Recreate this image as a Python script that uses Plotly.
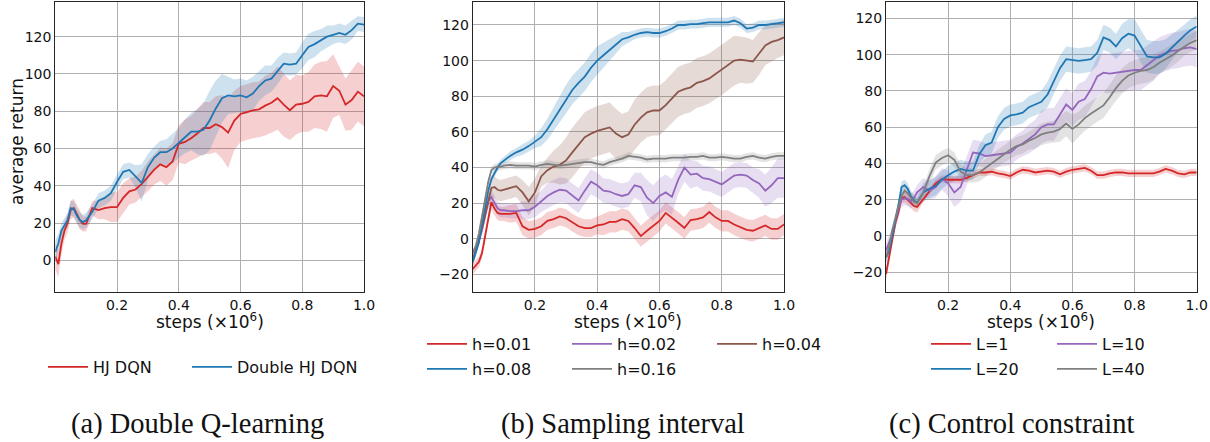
import plotly.graph_objects as go

# ---------------- data ----------------
STEPS = [0, 0.01, 0.02, 0.03, 0.04, 0.05, 0.06, 0.07, 0.08, 0.09, 0.10,
         0.12, 0.14, 0.16, 0.18, 0.20, 0.22, 0.24, 0.26, 0.28, 0.30,
         0.32, 0.34, 0.36, 0.38, 0.40, 0.42, 0.44, 0.46, 0.48, 0.50,
         0.52, 0.54, 0.56, 0.58, 0.60, 0.62, 0.64, 0.66, 0.68, 0.70,
         0.72, 0.74, 0.76, 0.78, 0.80, 0.82, 0.84, 0.86, 0.88, 0.90,
         0.92, 0.94, 0.96, 0.98, 1.00]

X_TICKS = [0.2, 0.4, 0.6, 0.8, 1.0]
X_TICK_LABELS = ["0.2", "0.4", "0.6", "0.8", "1.0"]
Y_TICKS_A = [0, 20, 40, 60, 80, 100, 120]
Y_TICKS_BC = [-20, 0, 20, 40, 60, 80, 100, 120]
X_TITLE = "steps (×10<sup>6</sup>)"
Y_TITLE = "average return"

# (a) Double Q-learning
A_HJ = [2, -2, 9, 16, 20, 27, 28, 25, 21.5, 19.5, 19.5,
        28, 27, 28, 28.5, 28.5, 33.5, 37, 38, 41, 45,
        48.5, 51.5, 50, 53, 62.5, 63.5, 65.5, 68, 71, 71,
        73, 71.5, 68.5, 75, 78.5, 79.5, 80.5, 81, 83, 84.5,
        87, 83.5, 80.5, 83.5, 84, 85, 88, 88.5, 88, 93.5,
        91, 83.5, 86, 90.5, 88]
A_HJ_SD = [7, 7, 6, 5, 5, 5, 5, 5, 5, 4, 4,
           4, 5, 6, 8, 8, 8, 7, 7, 7, 8,
           8, 9, 10, 10, 10, 12, 12, 13, 14, 14,
           15, 17, 19, 16, 15, 15, 15, 15, 16, 16,
           17, 17, 16, 16, 15, 16, 17, 18, 19, 17,
           13, 14, 16, 16, 16]
A_DHJ = [4.5, 9, 16, 19, 21.5, 28, 27.5, 24, 21.5, 20.5, 21.5,
         26, 32, 33.5, 36, 42, 47.5, 48.5, 45, 41.5, 50,
         55, 58, 58, 60, 63, 66.5, 69, 69, 70, 75,
         81.5, 87, 88.5, 88, 88.5, 87.5, 89.5, 93.5, 96.5, 97.5,
         101.5, 105.5, 105, 105.5, 110, 114.5, 116, 118, 120, 121,
         122, 121, 123.5, 127, 126.5]
A_DHJ_SD = [6, 5, 4, 4, 4, 4, 4, 4, 4, 4, 4,
            4, 4, 4, 4, 4, 4, 4, 6, 10, 7,
            6, 6, 7, 8, 8, 9, 10, 12, 14, 16,
            15, 13, 10, 9, 9, 9, 9, 8, 8, 7,
            7, 6, 6, 6, 7, 7, 7, 6, 6, 5,
            5, 5, 5, 4, 4]

# (b) Sampling interval
B_H001 = [-17, -15, -13, -8, 2, 12, 20.5, 17, 14.5, 14, 14,
          14, 14.5, 7, 5, 5.5, 7, 10, 11, 12.5, 11.5,
          9, 7, 6, 6, 7.5, 8, 9.5, 9.5, 11, 10,
          6, 1.5, 4.5, 7, 10, 14.5, 12, 9, 6, 10.5,
          11, 12, 15, 12, 10, 10, 8, 6.5, 5, 4.5,
          6, 7.5, 5.5, 5.5, 8]
B_H001_SD = [3, 3, 3, 3, 3, 3, 4, 4, 4, 4, 4,
             5, 5, 5, 5, 5, 5, 5, 5, 5, 5,
             5, 5, 5, 5, 5, 6, 6, 6, 6, 6,
             6, 6, 6, 6, 6, 6, 6, 6, 6, 6,
             6, 6, 6, 6, 6, 6, 6, 6, 6, 6,
             6, 6, 6, 6, 6]
B_H002 = [-12, -7, -1, 5, 13, 21, 23.5, 20, 17, 16, 16,
          15.5, 15.5, 16, 16, 18, 21, 24, 26, 27.5, 27,
          24, 21.5, 27, 32, 30, 27, 26.5, 25, 24, 25,
          30, 29, 23, 20, 24, 26, 23.5, 33, 40, 36,
          36.5, 34, 33.5, 32, 30.5, 33, 35.5, 36, 35.5, 33,
          31, 27, 30, 34, 34]
B_H002_SD = [3, 3, 3, 3, 4, 4, 4, 4, 4, 4, 4,
             4, 4, 5, 5, 6, 6, 7, 7, 7, 7,
             7, 7, 7, 7, 7, 7, 7, 7, 7, 7,
             7, 8, 10, 10, 10, 10, 10, 8, 8, 8,
             7, 7, 7, 7, 7, 7, 7, 7, 7, 7,
             8, 9, 10, 11, 11]
B_H004 = [-12, -7, -1, 6, 14, 22, 28.5, 29, 27.5, 27, 27.5,
          28.5, 29.5, 26, 21, 26, 35, 38.5, 40.5, 41.5, 44,
          48.5, 53, 57, 59, 60.5, 61.5, 62.5, 59, 57, 58.5,
          64, 68, 71, 72, 72, 75, 79, 82.5, 84, 85,
          87.5, 88.5, 90, 92.5, 94.5, 97, 100, 100.5, 100, 99.5,
          104, 108.5, 110.5, 111.5, 113]
B_H004_SD = [3, 3, 3, 3, 4, 5, 6, 6, 6, 6, 6,
             6, 6, 7, 8, 8, 6, 7, 9, 11, 13,
             14, 14, 14, 14, 14, 14, 14, 14, 13, 13,
             14, 14, 14, 14, 14, 14, 14, 14, 14, 14,
             14, 14, 14, 14, 14, 14, 14, 13, 13, 12,
             12, 11, 11, 10, 10]
B_H008 = [-13, -8, -2, 8, 17, 27, 33.5, 37, 40, 42.5, 44,
          46.5, 48.5, 50, 52, 54.5, 57, 61.5, 67, 73, 78.5,
          83.5, 87.5, 91, 96, 100, 103, 106, 109, 112, 113,
          114.5, 115.5, 116, 115.5, 115.5, 116.5, 118, 120, 120, 120.5,
          120.5, 121, 121.5, 121.5, 121.5, 121.5, 122.5, 121, 118, 118.5,
          120, 120, 120.5, 121, 121.5]
B_H008_SD = [2, 2, 2, 2, 2, 2, 2, 2, 2, 2, 2,
             2.5, 2.5, 3, 3, 3.5, 5, 6, 7, 7.5, 8,
             8, 8, 8, 8, 8, 7, 6, 5, 4, 3,
             2.5, 2.5, 2.5, 2.5, 2.5, 2.5, 2.5, 2.5, 2.5, 2.5,
             2.5, 2.5, 2.5, 2.5, 2.5, 2.5, 2.5, 2.5, 2.5, 2.5,
             2.5, 2.5, 2.5, 2.5, 2.5]
B_H016 = [-8, -4, 3, 12, 22, 32, 38.5, 40, 40.5, 40.5, 41,
          41.5, 41, 41, 41, 40.5, 41.5, 42, 41.5, 41, 41.5,
          42, 42.5, 43, 43, 42, 41.5, 43, 44, 45, 46.5,
          46, 45.5, 44.5, 45, 45, 45, 45.5, 45.5, 45.5, 46,
          46, 46.5, 45.5, 45.5, 46, 45.5, 45, 45, 46, 46.5,
          45.5, 45, 46, 46.5, 46.5]
B_H016_SD = [2, 2, 2, 2, 2, 2, 2, 2, 2, 2, 2,
             2, 2, 2, 2, 2, 2, 2, 2, 2, 2,
             2, 2, 2, 2, 2, 2, 2, 2, 2, 2,
             2, 2, 2, 2, 2, 2, 2, 2, 2, 2,
             2, 2, 2, 2, 2, 2, 2, 2, 2, 2,
             2, 2, 2, 2, 2]

# (c) Control constraint
C_L1 = [-21, -12, -1, 7, 13, 21, 21.5, 20, 18.5, 16.5, 16,
        20.5, 25, 29, 31.5, 31, 31, 31, 32, 33.5, 35,
        35, 35.5, 34.5, 34, 33, 35, 36.5, 36, 35, 35.5,
        36, 35.5, 34, 35.5, 36.5, 37, 37.5, 36, 33.5, 33.5,
        34.5, 35, 35, 34.5, 34.5, 34.5, 34.5, 34.5, 35.5, 37,
        36, 34.5, 34, 35, 35]
C_L1_SD = [3, 3, 3, 3, 3, 3, 3, 3, 3, 3, 3,
           2, 2, 2, 2, 2, 2, 2, 2, 2, 2,
           2, 2, 2, 2, 2, 2, 2, 2, 2, 2,
           2, 2, 2, 2, 2, 2, 2, 2, 2, 2,
           2, 2, 2, 2, 2, 2, 2, 2, 2, 2,
           2, 2, 2, 2, 2]
C_L10 = [-8, -3, 1, 8, 15, 20, 21, 20.5, 19, 21, 24,
         27, 25, 27, 31.5, 29, 24, 27, 36, 46, 45.5,
         44, 44.5, 45, 45.5, 46, 49, 51, 53.5, 56, 60,
         61.5, 61.5, 67, 72.5, 69.5, 74, 75.5, 81, 88, 90,
         89.5, 90, 90.5, 91, 91.5, 91.5, 94, 96.5, 99.5, 101,
         102, 102.5, 103.5, 104, 103]
C_L10_SD = [4, 4, 4, 4, 4, 4, 4, 4, 4, 4, 4,
            5, 5, 6, 6, 7, 8, 8, 8, 7, 7,
            7, 7, 7, 7, 7, 7, 7, 8, 8, 9,
            9, 9, 9, 9, 9, 10, 10, 10, 11, 11,
            11, 11, 11, 11, 11, 11, 11, 11, 10, 10,
            10, 10, 10, 10, 10]
C_L20 = [-12, -8, 0, 8, 17, 27, 28, 26, 22, 19.5, 18.5,
         24, 26, 27.5, 31, 33.5, 35.5, 37, 36, 36, 45,
         50, 51.5, 60, 64.5, 66.5, 67, 68, 71, 72.5, 74,
         78, 85, 92.5, 97.5, 97, 96.5, 97, 97.5, 101, 109.5,
         108, 104.5, 109, 111.5, 110.5, 105, 99, 98.5, 98.5, 100.5,
         104, 107.5, 110.5, 113.5, 115.5]
C_L20_SD = [3, 3, 3, 3, 3, 3, 3, 3, 3, 3, 3,
            5, 5, 5, 5, 5, 5, 5, 5, 5, 5,
            6, 6, 6, 6, 6, 6, 6, 6, 6, 6,
            7, 7, 7, 7, 7, 7, 7, 7, 7, 7,
            7, 7, 8, 8, 9, 9, 9, 9, 9, 8,
            7, 6, 6, 6, 6]
C_L40 = [-12, -6, 3, 10, 16, 22, 25, 23.5, 21, 19, 18,
         24, 33, 40.5, 43, 44.5, 42, 35.5, 33.5, 33.5, 35,
         37.5, 40, 43, 45.5, 47.5, 49.5, 50.5, 52.5, 54, 56,
         57, 57.5, 59, 62, 59, 61.5, 65, 67.5, 70, 72,
         76.5, 81.5, 85.5, 88.5, 90, 91, 91.5, 93, 95.5, 97.5,
         99.5, 102, 104.5, 106.5, 108]
C_L40_SD = [3, 3, 3, 3, 3, 3, 3, 3, 3, 3, 3,
            3, 4, 4, 4, 4, 4, 4, 4, 4, 5,
            5, 5, 5, 5, 5, 5, 5, 5, 6, 6,
            6, 6, 7, 7, 8, 7, 7, 7, 7, 7,
            7, 7, 7, 7, 7, 7, 7, 7, 6, 6,
            6, 6, 5, 5, 5]

# ---------------- style ----------------
RED = (214, 39, 40)
BLUE = (31, 119, 180)
PURPLE = (148, 103, 189)
BROWN = (140, 86, 75)
GRAY = (127, 127, 127)

W, H = 1210, 442
FONT = "DejaVu Sans"

def rgb(c, a=None):
    if a is None:
        return "rgb(%d,%d,%d)" % c
    return "rgba(%d,%d,%d,%s)" % (c + (a,))

# panel: axis suffix, series list (name, mean, sd, color, legend id)
PANELS = [
    ("", [("HJ DQN", A_HJ, A_HJ_SD, RED, "legend"),
          ("Double HJ DQN", A_DHJ, A_DHJ_SD, BLUE, "legend6")]),
    ("2", [("h=0.01", B_H001, B_H001_SD, RED, "legend2"),
           ("h=0.02", B_H002, B_H002_SD, PURPLE, "legend2"),
           ("h=0.04", B_H004, B_H004_SD, BROWN, "legend2"),
           ("h=0.08", B_H008, B_H008_SD, BLUE, "legend3"),
           ("h=0.16", B_H016, B_H016_SD, GRAY, "legend3")]),
    ("3", [("L=1", C_L1, C_L1_SD, RED, "legend4"),
           ("L=10", C_L10, C_L10_SD, PURPLE, "legend4"),
           ("L=20", C_L20, C_L20_SD, BLUE, "legend5"),
           ("L=40", C_L40, C_L40_SD, GRAY, "legend5")]),
]

fig = go.Figure()

for suffix, series in PANELS:
    xa, ya = "x" + suffix, "y" + suffix
    for name, mean, sd, col, leg in series:
        assert len(mean) == len(STEPS) and len(sd) == len(STEPS), name
        upper = [m + s for m, s in zip(mean, sd)]
        lower = [m - s for m, s in zip(mean, sd)]
        fig.add_trace(go.Scatter(
            x=STEPS + STEPS[::-1], y=upper + lower[::-1],
            fill="toself", fillcolor=rgb(col, 0.22),
            line=dict(width=0), mode="lines", hoverinfo="skip",
            showlegend=False, xaxis=xa, yaxis=ya))
    for name, mean, sd, col, leg in series:
        fig.add_trace(go.Scatter(
            x=STEPS, y=mean, name=name, mode="lines",
            line=dict(color=rgb(col), width=1.8),
            xaxis=xa, yaxis=ya, legend=leg))

# axes geometry (pixels -> paper)
X_DOMAINS = [(55.25, 364.0), (472.7, 784.0), (886.0, 1196.7)]
Y_DOMAIN = [1 - 292 / H, 1 - 2 / H]
Y_RANGES = [[-17, 138.6], [-29.9, 132.9], [-30.9, 129.0]]
Y_TICKS = [Y_TICKS_A, Y_TICKS_BC, Y_TICKS_BC]

axis_common = dict(
    showgrid=True, gridcolor="#b0b0b0", gridwidth=1,
    showline=True, linecolor="#262626", linewidth=1, mirror=True,
    ticks="",
    tickfont=dict(family=FONT, size=14, color="#111111"),
    zeroline=False, automargin=False,
)

layout = dict(
    width=W, height=H,
    margin=dict(l=0, r=0, t=0, b=0, autoexpand=False),
    paper_bgcolor="white", plot_bgcolor="white",
    font=dict(family=FONT, color="#111111"),
    showlegend=True,
)

for i, suffix in enumerate(["", "2", "3"]):
    x0, x1 = X_DOMAINS[i]
    layout["xaxis" + suffix] = dict(
        axis_common, domain=[x0 / W, x1 / W], range=[0, 1.0],
        tickvals=X_TICKS, ticktext=X_TICK_LABELS, anchor="y" + suffix,
    )
    layout["yaxis" + suffix] = dict(
        axis_common, domain=Y_DOMAIN, range=Y_RANGES[i],
        tickvals=Y_TICKS[i], anchor="x" + suffix,
    )

legend_common = dict(
    orientation="h", xanchor="left", yanchor="middle",
    bgcolor="rgba(0,0,0,0)", borderwidth=0,
    font=dict(family=FONT, size=16, color="#111111"),
    traceorder="normal", itemwidth=40,
)
layout["legend"] = dict(legend_common, x=(48 - 5) / W, y=1 - 367 / H)
layout["legend6"] = dict(legend_common, x=(192 - 5) / W, y=1 - 367 / H)
layout["legend2"] = dict(legend_common, x=(427 - 5) / W, y=1 - 344 / H,
                         entrywidthmode="pixels", entrywidth=90)
layout["legend3"] = dict(legend_common, x=(427 - 5) / W, y=1 - 369 / H,
                         entrywidthmode="pixels", entrywidth=90)
layout["legend4"] = dict(legend_common, x=(931 - 5) / W, y=1 - 344 / H,
                         entrywidthmode="pixels", entrywidth=71)
layout["legend5"] = dict(legend_common, x=(931 - 5) / W, y=1 - 369 / H,
                         entrywidthmode="pixels", entrywidth=71)

annotations = []
# axis titles
for x0, x1 in X_DOMAINS:
    annotations.append(dict(
        text=X_TITLE, x=(x0 + x1) / 2 / W, y=1 - 321 / H,
        xref="paper", yref="paper", xanchor="center", yanchor="middle",
        showarrow=False, font=dict(family=FONT, size=17, color="#111111")))
annotations.append(dict(
    text=Y_TITLE, x=17 / W, y=1 - 142 / H, textangle=-90,
    xref="paper", yref="paper", xanchor="center", yanchor="middle",
    showarrow=False, font=dict(family=FONT, size=17, color="#111111")))

CAPTIONS = ["(a) Double Q-learning", "(b) Sampling interval", "(c) Control constraint"]
CAPTION_X = [197, 623, 1012]
for t, cx in zip(CAPTIONS, CAPTION_X):
    annotations.append(dict(
        text=t, x=cx / W, y=1 - 424 / H, xref="paper", yref="paper",
        xanchor="center", yanchor="middle", showarrow=False,
        font=dict(family="Liberation Serif", size=28.5, color="#111111")))
layout["annotations"] = annotations

fig.update_layout(**layout)
fig.write_html(
    "out.html",
    config={"displayModeBar": False},
    post_script="document.body.style.margin='0';document.body.style.padding='0';"
                "document.body.style.overflow='hidden';",
)
